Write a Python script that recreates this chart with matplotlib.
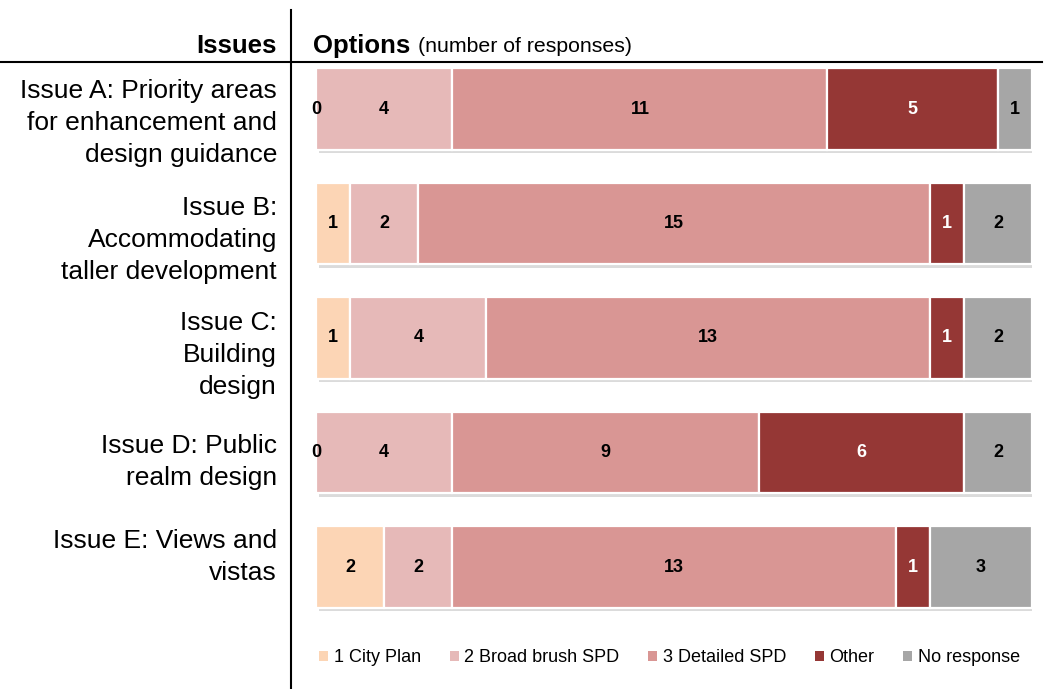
import matplotlib
matplotlib.use("Agg")
import matplotlib.pyplot as plt
import matplotlib.patheffects as pe
from matplotlib.patches import Patch
from matplotlib.lines import Line2D

issues = [
    "Issue A: Priority areas\nfor enhancement and\ndesign guidance",
    "Issue B:\nAccommodating\ntaller development",
    "Issue C:\nBuilding\ndesign",
    "Issue D: Public\nrealm design",
    "Issue E: Views and\nvistas",
]
series_names = ["1 City Plan", "2 Broad brush SPD", "3 Detailed SPD", "Other", "No response"]
city_plan = [0, 1, 1, 0, 2]
broad_brush = [4, 2, 4, 4, 2]
detailed = [11, 15, 13, 9, 13]
other = [5, 1, 1, 6, 1]
no_response = [1, 2, 2, 2, 3]

series = [city_plan, broad_brush, detailed, other, no_response]
colors = ["#FCD5B5", "#E6B9B8", "#D99694", "#953735", "#A6A6A6"]
label_colors = ["black", "black", "black", "white", "black"]
# vertical offset (in bar-spacing units) of the issue text relative to bar centre
label_offsets = [0.12, 0.14, 0.15, 0.08, -0.09]

FONT = ["Liberation Sans", "DejaVu Sans"]
plt.rcParams["font.family"] = FONT

W, H = 1046, 689
fig = plt.figure(figsize=(W / 100, H / 100), dpi=100)

ax_left, ax_right = 316, 1032
ax_top, ax_bot = 51.75, 624.25
ax = fig.add_axes([ax_left / W, 1 - ax_bot / H, (ax_right - ax_left) / W, (ax_bot - ax_top) / H])

total = [sum(v) for v in zip(*series)]
ypos = list(range(len(issues)))
left = [0] * len(issues)
shadow = [pe.SimplePatchShadow(offset=(2.5, -2.5), shadow_rgbFace="#9a9a9a", alpha=0.35), pe.Normal()]
for vals, col, lc in zip(series, colors, label_colors):
    bars = ax.barh(ypos, vals, left=left, height=0.716, color=col,
                   edgecolor="white", linewidth=1.6)
    for b in bars:
        b.set_path_effects(shadow)
    ax.bar_label(bars, labels=[str(v) for v in vals], label_type="center",
                 fontsize=13, fontweight="bold", color=lc)
    left = [l + v for l, v in zip(left, vals)]

ax.set_xlim(0, max(total))
ax.set_ylim(len(issues) - 0.5, -0.5)
ax.axis("off")

# issue labels
x_lab = 277
for i, (txt, off) in enumerate(zip(issues, label_offsets)):
    ax.annotate(txt, xy=(0, i + off), xycoords=("axes fraction", "data"),
                xytext=(x_lab - ax_left, 0), textcoords="offset pixels",
                ha="right", va="center", fontsize=19, linespacing=1.42,
                annotation_clip=False)

# headers
fig.text(277 / W, 1 - 46 / H, "Issues", ha="right", va="center",
         fontsize=18.5, fontweight="bold")
fig.text(313 / W, 1 - 46 / H, "Options", ha="left", va="center",
         fontsize=18.5, fontweight="bold")
fig.text(418 / W, 1 - 47 / H, "(number of responses)", ha="left", va="center",
         fontsize=15.3)

# divider lines
fig.add_artist(Line2D([0, 1042 / W], [1 - 62 / H, 1 - 62 / H], color="black", lw=1.5))
fig.add_artist(Line2D([291 / W, 291 / W], [1 - 10 / H, 0], color="black", lw=1.5))

# legend
handles = [Patch(facecolor=c, edgecolor="none") for c in colors]
leg = fig.legend(handles, series_names, loc="center left",
                 bbox_to_anchor=(312 / W, 1 - 658 / H), ncol=5, frameon=False,
                 handlelength=0.5, handleheight=0.5, handletextpad=0.3,
                 columnspacing=1.6, borderaxespad=0,
                 prop={"size": 13})

fig.savefig("out.png", dpi=100)
